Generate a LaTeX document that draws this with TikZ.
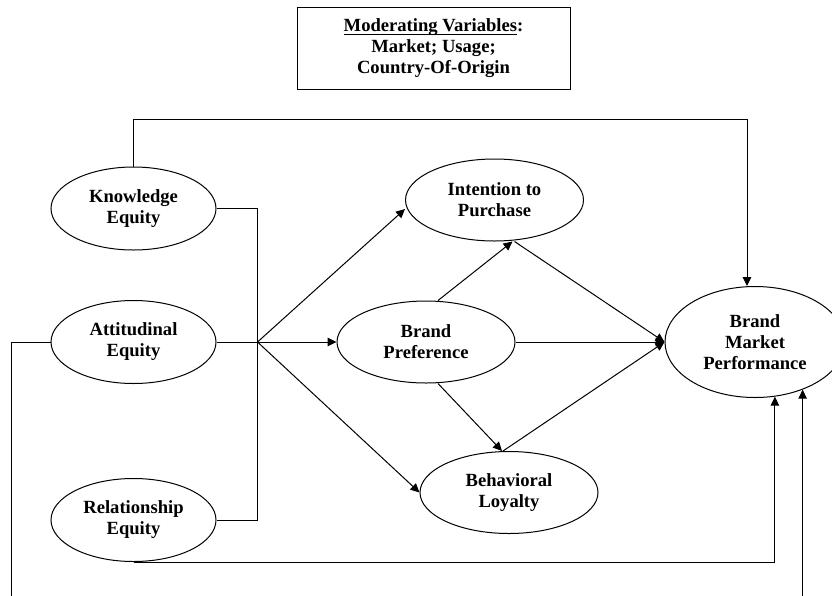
\documentclass[tikz,border=0pt]{standalone}
\usepackage{fontspec}
\setmainfont{Liberation Serif}
\usepackage{tikz}
\usetikzlibrary{arrows.meta,positioning,shapes.geometric}
\newcommand\undertext[1]{\setbox0\hbox{#1}\rlap{\rule[-3pt]{\wd0}{0.9pt}}\box0}

\begin{document}
\begin{tikzpicture}[
  x=1pt,y=-1pt,
  on grid,
  >={Triangle[length=9pt,width=8.5pt]},
  line width=1pt,
  every node/.style={font=\bfseries\fontsize{18.6}{21}\selectfont,align=center},
  equity/.style={ellipse,draw,inner sep=0pt,minimum width=165pt,minimum height=83pt},
  outcome/.style={ellipse,draw,inner sep=0pt,minimum width=178pt,minimum height=82pt},
  result/.style={ellipse,draw,inner sep=0pt,minimum width=180pt,minimum height=111pt},
  moderator/.style={rectangle,draw,minimum width=273pt,minimum height=82pt}
  ]
  \clip (0,0) rectangle (832,595);
  % equity dimensions
  \node [equity] (know) at (133.5,208.5) {Knowledge\\Equity};
  \node [equity] (att)  [below=133.5pt of know] {Attitudinal\\Equity};
  \node [equity] (rel)  [below=178pt of att] {Relationship\\Equity};
  % outcomes
  \node [outcome] (bp)     [right=292.5pt of att] {Brand\\Preference};
  \node [outcome] (intent) [above right=142pt and 68.5pt of bp] {Intention to\\Purchase};
  \node [outcome] (bl)     [below right=150.5pt and 83pt of bp] {Behavioral\\Loyalty};
  \node [result]  (bmp)    [right=329pt of bp] {Brand\\Market\\Performance};
  \node [moderator] (mod) at (433.5,48) {\undertext{Moderating Variables}:\\Market; Usage;\\Country-Of-Origin};

  \coordinate [right=41pt of att.east] (jn);
  \coordinate (top) at (0,119);
  \coordinate (loop) at (11,615);

  \draw (know.east) -| (jn) |- (rel.east);
  \draw (att.east) -- (jn);
  \draw [->] (jn) -- ([yshift=-9pt]intent.west);
  \draw [->] (jn) -- (bp.west);
  \draw [->] (jn) -- (bl.west);
  \draw [->] ([xshift=12pt]bp.north) -- ([xshift=18pt]intent.south);
  \draw [->] ([xshift=12pt]bp.south) -- ([xshift=-7pt]bl.north);
  \draw [->] ([xshift=20pt]intent.south) -- (bmp.west);
  \draw [->] (bp.east) -- (bmp.west);
  \draw [->] ([xshift=-6pt]bl.north) -- (bmp.west);
  \draw [->] (know.north) -- (know.north |- top) -| ([xshift=-8pt]bmp.north);
  \draw [->] (rel.south) -| (bmp.290);
  \draw [->] (att.west) -| (loop) -| (bmp.315);
\end{tikzpicture}
\end{document}
